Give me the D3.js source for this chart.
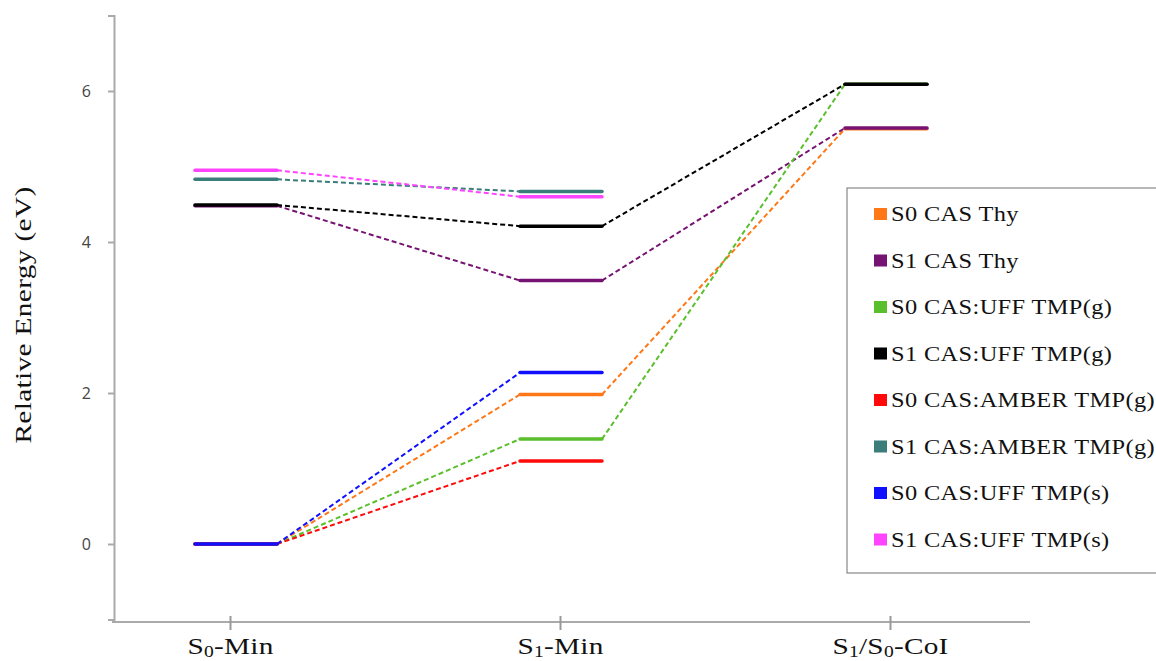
<!DOCTYPE html>
<html lang="en">
<head>
<meta charset="UTF-8">
<title>Relative Energy</title>
<script src="https://d3js.org/d3.v7.min.js"></script>
<style>
  body { margin: 0; background: #fff; }
  svg { display: block; }
  .serif { font-family: "Liberation Serif", "DejaVu Serif", "Times New Roman", serif; fill: #111; }
</style>
</head>
<body>
<div id="chart"></div>
<script>
// stages along the x axis
const stages = ["S0-Min", "S1-Min", "S1/S0-CoI"];
// label pieces: [text, subscript?]
const stageLabels = [
  [["S", false], ["0", true], ["-Min", false]],
  [["S", false], ["1", true], ["-Min", false]],
  [["S", false], ["1", true], ["/S", false], ["0", true], ["-CoI", false]]
];
const yTicks = [0, 2, 4, 6];

// series (null = no level at that stage)
const seriesNames = [
  "S0 CAS Thy", "S1 CAS Thy", "S0 CAS:UFF TMP(g)", "S1 CAS:UFF TMP(g)",
  "S0 CAS:AMBER TMP(g)", "S1 CAS:AMBER TMP(g)", "S0 CAS:UFF TMP(s)", "S1 CAS:UFF TMP(s)"
];
const seriesColors = ["#ff7716", "#761272", "#5abf2c", "#000000", "#ff0a0a", "#3a7d7a", "#1010ff", "#ff44ff"];
const s0CasThy    = [0, 1.98, 5.50];
const s1CasThy    = [4.48, 3.49, 5.51];
const s0UffG      = [0, 1.39, 6.09];
const s1UffG      = [4.49, 4.21, 6.09];
const s0AmberG    = [0, 1.10, null];
const s1AmberG    = [4.83, 4.67, null];
const s0UffS      = [0, 2.27, null];
const s1UffS      = [4.95, 4.60, null];
const seriesValues = [s0CasThy, s1CasThy, s0UffG, s1UffG, s0AmberG, s1AmberG, s0UffS, s1UffS];

const W = 1156, H = 661;
const stretch = 1.22; // the original serif face is wider than Times
const svg = d3.select("#chart").append("svg").attr("width", W).attr("height", H);

const y = d3.scaleLinear().domain([-1, 7]).range([619.5, 15.5]);
// level centres and axis ticks (ticks sit slightly apart from the levels in the original)
const xLevel = d3.scalePoint().domain(stages).range([236, 886]);
const xTick = d3.scalePoint().domain(stages).range([230, 890]);
const halfW = 41;

// y axis
const yAxis = svg.append("g")
  .attr("transform", "translate(114,0)")
  .call(d3.axisLeft(y).tickValues(yTicks).tickSize(6).tickPadding(17).tickFormat(d3.format("d")));
yAxis.select(".domain").attr("stroke", "#aaa").attr("stroke-width", 2);
yAxis.selectAll(".tick line").attr("stroke", "#aaa").attr("stroke-width", 2);
yAxis.selectAll(".tick text")
  .attr("font-family", "'Open Sans', sans-serif").attr("font-size", 16).attr("fill", "#444");

// x axis
svg.append("line")
  .attr("x1", 112).attr("x2", 1030).attr("y1", 622).attr("y2", 622)
  .attr("stroke", "#aaa").attr("stroke-width", 2);
const xAxis = svg.append("g")
  .attr("transform", "translate(0,622)")
  .call(d3.axisBottom(xTick).tickSize(8).tickPadding(16));
xAxis.select(".domain").remove();
xAxis.selectAll(".tick line").attr("y1", -6).attr("y2", 8).attr("stroke", "#999").attr("stroke-width", 2);
xAxis.selectAll(".tick text").each(function (d, i) {
  const t = d3.select(this).text(null)
    .attr("class", "serif").attr("font-size", 24).attr("letter-spacing", 0.2)
    .attr("dy", null).attr("y", 0)
    .attr("transform", `translate(0,32) scale(${stretch},1)`);
  stageLabels[i].forEach(([s, sub], k) => {
    t.append("tspan").text(s)
      .attr("font-size", sub ? 16 : 24)
      .attr("dy", sub ? 3 : (k > 0 ? -3 : 0));
  });
});

// y label
svg.append("text")
  .attr("class", "serif")
  .attr("transform", `translate(31,315) rotate(-90) scale(${stretch},1)`)
  .attr("text-anchor", "middle")
  .attr("font-size", 24).attr("letter-spacing", 0.3)
  .text("Relative Energy (eV)");

// connectors then levels
const plot = svg.append("g");
seriesValues.forEach((vals, si) => {
  const color = seriesColors[si];
  const g = plot.append("g");
  for (let i = 0; i < stages.length - 1; i++) {
    if (vals[i] == null || vals[i + 1] == null) continue;
    g.append("line")
      .attr("x1", xLevel(stages[i]) + halfW).attr("y1", y(vals[i]))
      .attr("x2", xLevel(stages[i + 1]) - halfW).attr("y2", y(vals[i + 1]))
      .attr("stroke", color).attr("stroke-width", 2).attr("stroke-dasharray", "5,3");
  }
  vals.forEach((v, i) => {
    if (v == null) return;
    g.append("line")
      .attr("x1", xLevel(stages[i]) - halfW).attr("x2", xLevel(stages[i]) + halfW)
      .attr("y1", y(v)).attr("y2", y(v))
      .attr("stroke", color).attr("stroke-width", 3.5).attr("stroke-linecap", "round");
  });
});

// legend
const legend = svg.append("g").attr("transform", "translate(847,188)");
legend.append("rect")
  .attr("x", 0).attr("y", 0).attr("width", 330).attr("height", 385)
  .attr("fill", "#fff").attr("stroke", "#888").attr("stroke-width", 1.2);
seriesNames.forEach((name, i) => {
  const row = legend.append("g").attr("transform", `translate(0,${26 + i * 46.5})`);
  row.append("rect").attr("x", 27).attr("y", -6).attr("width", 13).attr("height", 12)
    .attr("fill", seriesColors[i]);
  row.append("text").attr("class", "serif")
    .attr("transform", `translate(44,7) scale(${stretch},1)`)
    .attr("font-size", 20).attr("letter-spacing", 0.3)
    .text(name);
});
</script>
</body>
</html>
